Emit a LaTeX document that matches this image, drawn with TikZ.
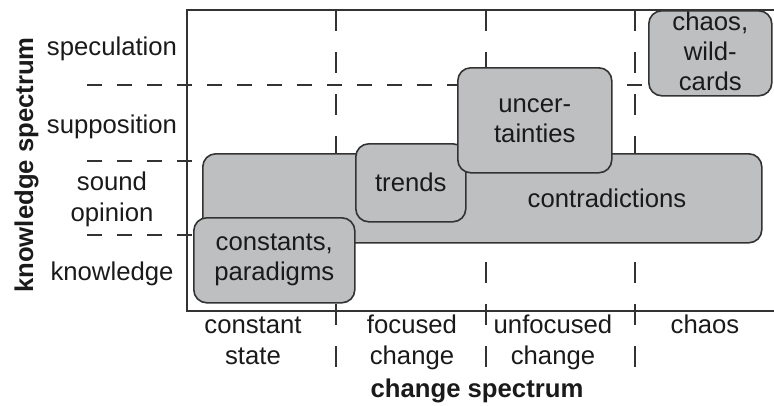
\documentclass[tikz,border=0pt]{standalone}
\usepackage{fontspec}
\setmainfont{Liberation Sans}
\definecolor{boxfill}{HTML}{BDBFC1}
\definecolor{boxline}{HTML}{333333}
\definecolor{axisline}{HTML}{333333}
\definecolor{txt}{HTML}{1A1A1A}
\begin{document}
\begin{tikzpicture}[x=1pt,y=-1pt,
  lab/.style={font=\fontsize{25.7}{30}\selectfont, text=txt, inner sep=0pt, align=center},
  boldlab/.style={font=\fontsize{25.7}{30}\selectfont\bfseries, text=txt, inner sep=0pt},
  box/.style={draw=boxline, fill=boxfill, line width=1.6pt, rounded corners=13pt, inner sep=0pt, anchor=north west},
  hdash/.style={draw=axisline, line width=1.6pt, dash pattern=on 15pt off 15pt},
  vdash/.style={draw=axisline, line width=1.6pt, dash pattern=on 21pt off 21pt},
  axis/.style={draw=axisline, line width=1.6pt}]
\useasboundingbox (0,0) rectangle (774,405);
% axes
\coordinate (tl) at (187,10);
\coordinate (tr) at (774,10);
\coordinate (bl) at (187,311);
\coordinate (br) at (774,311);
\draw[axis] (tr) -- (tl) -- (bl) -- (br);
% horizontal dashed lines
\coordinate (h1a) at (87,85);  \coordinate (h1b) at (645,85);
\coordinate (h2a) at (87,161); \coordinate (h2b) at (205,161);
\coordinate (h3a) at (87,235); \coordinate (h3b) at (195,235);
\draw[hdash] (h1a) -- (h1b);
\draw[hdash] (h2a) -- (h2b);
\draw[hdash] (h3a) -- (h3b);
% vertical dashed lines
\foreach \x/\n in {336/v1,486/v2,635/v3}{
  \coordinate (\n a) at (\x,10);
  \coordinate (\n b) at (\x,368);
  \draw[vdash] (\n a) -- (\n b);
}
% boxes
\node[box, minimum width=559pt, minimum height=89pt] (contra) at (202,153) {};
\node[lab] (contratxt) at (607,198) {contradictions};
\node[box, minimum width=110pt, minimum height=78pt] (trends) at (355,143) {};
\node[lab] at (trends.center) {trends};
\node[box, minimum width=154pt, minimum height=105pt] (unc) at (457,67) {};
\node[lab] at (unc.center) {uncer-\\tainties};
\node[box, minimum width=123pt, minimum height=85pt] (chaosbox) at (648,10) {};
\node[lab] at ([yshift=2pt]chaosbox.center) {chaos,\\wild-\\cards};
\node[box, minimum width=161pt, minimum height=85pt] (const) at (193,217) {};
\node[lab] at (const.center) {constants,\\paradigms};
% left labels
\node[lab, anchor=base] (spec) at (112,55) {speculation};
\node[lab, anchor=base] (supp) at (112,133) {supposition};
\node[lab, anchor=base] (sound) at (112,190) {sound};
\node[lab, anchor=base] (opin) at (112,221) {opinion};
\node[lab, anchor=base] (know) at (112,280) {knowledge};
\node[boldlab, anchor=base, rotate=90] (kspec) at (33,165) {knowledge spectrum};
% bottom labels
\node[lab, anchor=base] at (253,333) {constant};
\node[lab, anchor=base] at (253,364) {state};
\node[lab, anchor=base] at (412,333) {focused};
\node[lab, anchor=base] at (412,364) {change};
\node[lab, anchor=base] at (553,333) {unfocused};
\node[lab, anchor=base] at (553,364) {change};
\node[lab, anchor=base] at (705,333) {chaos};
\node[boldlab, anchor=base] (cspec) at (477,397) {change spectrum};
\end{tikzpicture}
\end{document}
